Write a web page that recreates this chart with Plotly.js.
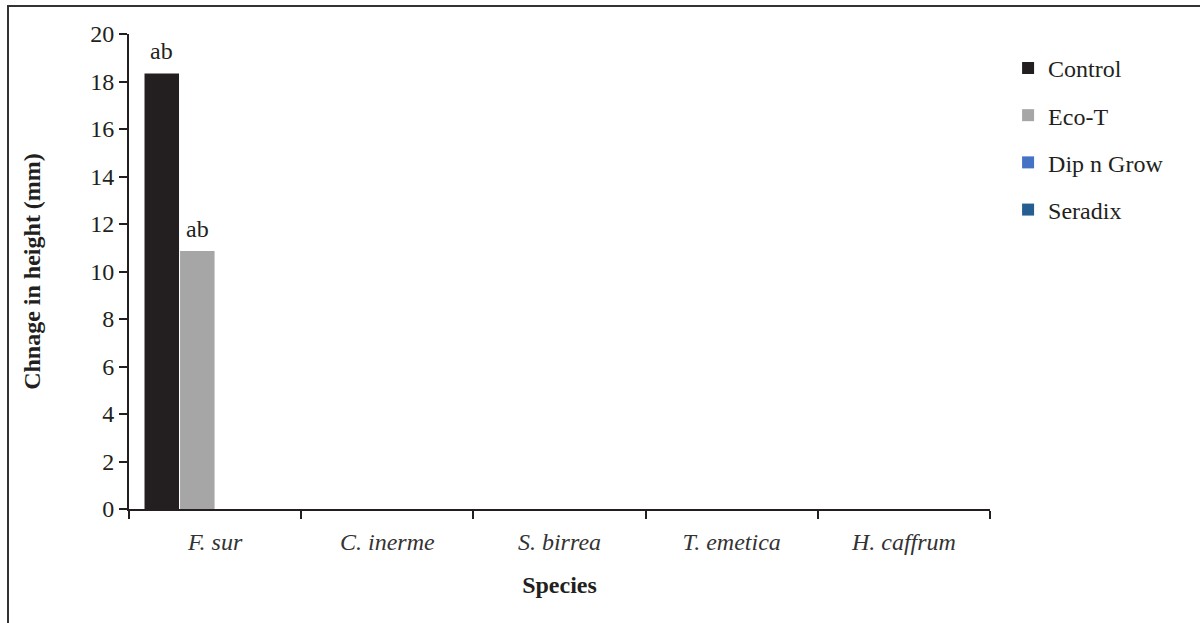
<!DOCTYPE html>
<html>
<head>
<meta charset="utf-8">
<script src="https://cdn.plot.ly/plotly-3.0.1.min.js"></script>
<style>
  html, body { margin: 0; padding: 0; background: #fff; }
  #frame { position: absolute; left: 7px; top: 5px; width: 1193px; height: 618px; border-left: 2px solid #333; border-top: 2px solid #333; }
  #chart { position: absolute; left: 0; top: 0; width: 1200px; height: 623px; }
</style>
</head>
<body>
<div id="frame"></div>
<div id="chart"></div>
<script>
const categories = ["F. sur", "C. inerme", "S. birrea", "T. emetica", "H. caffrum"];
const seriesNames = ["Control", "Eco-T", "Dip n Grow", "Seradix"];
const control = [18.34, 0, 0, 0, 0];
const ecoT = [10.86, 0, 0, 0, 0];
const dipNGrow = [0, 0, 0, 0, 0];
const seradix = [0, 0, 0, 0, 0];
const controlLabels = ["ab", "", "", "", ""];
const ecoTLabels = ["ab", "", "", "", ""];
const colors = ["#231f20", "#a6a6a6", "#4472c4", "#255e91"];

const FONT = "Liberation Serif";
const catLabels = categories.map(c => "<i>" + c + "</i>");
const values = [control, ecoT, dipNGrow, seradix];
const labels = [controlLabels, ecoTLabels, null, null];

const W = 1200, H = 623;
const margin = { l: 129, r: 210, t: 34, b: 114 };
const bargap = 0.174, bargroupgap = 0.03;

const traces = values.map((v, i) => ({
  type: "bar",
  name: seriesNames[i],
  x: catLabels,
  y: v,
  marker: { color: colors[i], line: { width: 0 } },
  legendgroup: "g" + i,
  hoverinfo: "skip"
}));

// letter annotations above bars, shifted to each bar's slot in the group
const plotW = W - margin.l - margin.r;
const catW = plotW / categories.length;
const groupW = catW * (1 - bargap);
const slotW = groupW / values.length;
const annotations = [];
labels.forEach((lab, i) => {
  if (!lab) return;
  lab.forEach((txt, j) => {
    if (!txt) return;
    annotations.push({
      x: catLabels[j], y: values[i][j], xref: "x", yref: "y",
      text: txt, showarrow: false,
      xshift: -groupW / 2 + slotW * (i + 0.5),
      yshift: 22, yanchor: "middle",
      font: { family: FONT, size: 24, color: "#231f20" }
    });
  });
});

const layout = {
  width: W,
  height: H,
  paper_bgcolor: "rgba(0,0,0,0)",
  plot_bgcolor: "rgba(0,0,0,0)",
  margin: margin,
  barmode: "group",
  bargap: bargap,
  bargroupgap: bargroupgap,
  font: { family: FONT, size: 24, color: "#231f20" },
  showlegend: true,
  annotations: annotations,
  legend: {
    x: 1.021, y: 0.975, xanchor: "left", yanchor: "top",
    font: { family: FONT, size: 24, color: "#231f20" },
    tracegroupgap: 13,
    itemwidth: 30,
    bgcolor: "rgba(0,0,0,0)"
  },
  xaxis: {
    type: "category",
    showline: true, linecolor: "#231f20", linewidth: 2,
    ticks: "outside", tickson: "boundaries", ticklen: 8, tickwidth: 2, tickcolor: "#231f20",
    ticklabelstandoff: 10,
    showgrid: false, zeroline: false,
    tickfont: { family: FONT, size: 24, color: "#333" },
    title: { text: "<b>Species</b>", font: { family: FONT, size: 24, color: "#231f20" }, standoff: 22 }
  },
  yaxis: {
    range: [0, 20],
    dtick: 2,
    showline: true, linecolor: "#231f20", linewidth: 2,
    ticks: "outside", ticklen: 8, tickwidth: 2, tickcolor: "#231f20",
    showgrid: false, zeroline: false,
    tickfont: { family: FONT, size: 24, color: "#231f20" },
    title: { text: "<b>Chnage in height (mm)</b>", font: { family: FONT, size: 24, color: "#231f20" }, standoff: 43 }
  }
};

Plotly.newPlot("chart", traces, layout, { displayModeBar: false, staticPlot: true });
</script>
</body>
</html>
